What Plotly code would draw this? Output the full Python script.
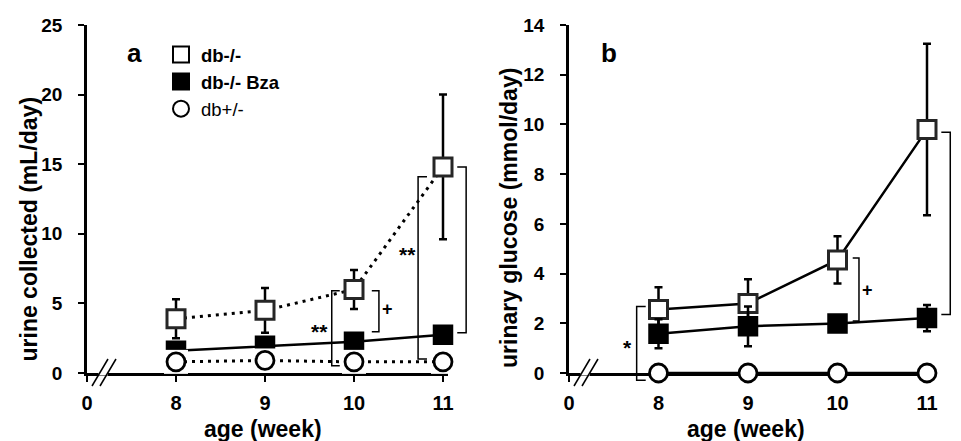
import plotly.graph_objects as go

W, H = 961, 441

# ---------------- data ----------------
xtick_labels = ["0", "8", "9", "10", "11"]
xtick_pos = [0, 1, 2, 3, 4]
week_pos = [1, 2, 3, 4]  # positions of weeks 8, 9, 10, 11 on the broken axis

urine_db = [3.9, 4.5, 6.0, 14.8]
urine_db_err = [1.4, 1.6, 1.4, 5.2]
urine_bza = [1.6, 1.95, 2.25, 2.75]
urine_het = [0.8, 0.9, 0.8, 0.8]

gluc_db = [2.55, 2.8, 4.55, 9.8]
gluc_db_err = [0.9, 0.97, 0.95, 3.45]
gluc_bza = [1.58, 1.88, 1.99, 2.21]
gluc_bza_err = [0.58, 0.8, 0.3, 0.53]
gluc_het = [0, 0, 0, 0]

names = ["<b>db-/-</b>", "<b>db-/- Bza</b>", "db+/-"]

# ---------------- layout geometry (pixels) ----------------
LX = (87, 443)     # pixel of position 0 and position 4 (week 11)
RX = (569, 927)
YP = (25, 373)
XMAX = 4.06        # small extension so error bars at week 11 are not clipped
FONT = "Arial, Liberation Sans, sans-serif"


def dom_px(p):
    xa, xb = p
    return xa, xa + (xb - xa) * XMAX / 4.0


def to_paper(panel, x, y):
    xa, xb = LX if panel == 0 else RX
    ymax = 25 if panel == 0 else 14
    px = xa + (xb - xa) * x / 4.0
    py = YP[1] - (YP[1] - YP[0]) * y / ymax
    return px / W, 1 - py / H


fig = go.Figure()

sq_open = dict(symbol="square", size=18, color="white", line=dict(color="#262626", width=3))
sq_fill = dict(symbol="square", size=19, color="black", line=dict(color="black", width=1.5))
circ = dict(symbol="circle", size=18, color="white", line=dict(color="black", width=2.8))
box = dict(symbol="square", size=24, color="white", line=dict(width=0))
err_style = dict(type="data", color="black", thickness=2.5, width=4, visible=True)
dotted = dict(color="black", width=3, dash="3px,5px")
solid = dict(color="black", width=2.5)

# ---------- panel a ----------
fig.add_trace(go.Scatter(x=week_pos, y=urine_db, mode="lines+markers", marker=sq_open, line=dotted,
                         error_y=dict(array=urine_db_err, **err_style), cliponaxis=False,
                         showlegend=False, xaxis="x", yaxis="y"))
fig.add_trace(go.Scatter(x=week_pos, y=urine_bza, mode="lines+markers", marker=sq_fill, line=solid,
                         cliponaxis=False, showlegend=False, xaxis="x", yaxis="y"))
fig.add_trace(go.Scatter(x=week_pos, y=urine_het, mode="markers", marker=box,
                         cliponaxis=False, showlegend=False, xaxis="x", yaxis="y", hoverinfo="skip"))
fig.add_trace(go.Scatter(x=week_pos, y=urine_het, mode="lines+markers", marker=circ, line=dotted,
                         cliponaxis=False, showlegend=False, xaxis="x", yaxis="y"))

# ---------- panel b ----------
fig.add_trace(go.Scatter(x=week_pos, y=gluc_db, mode="lines+markers", marker=sq_open, line=solid,
                         error_y=dict(array=gluc_db_err, **err_style), cliponaxis=False,
                         showlegend=False, xaxis="x2", yaxis="y2"))
fig.add_trace(go.Scatter(x=week_pos, y=gluc_bza, mode="lines+markers", marker=sq_fill, line=solid,
                         error_y=dict(array=gluc_bza_err, **err_style), cliponaxis=False,
                         showlegend=False, xaxis="x2", yaxis="y2"))
fig.add_trace(go.Scatter(x=week_pos, y=gluc_het, mode="lines+markers", marker=circ, line=solid,
                         cliponaxis=False, showlegend=False, xaxis="x2", yaxis="y2"))

# ---------- legend entries (marker only) ----------
leg_markers = [
    dict(symbol="square", size=16, color="white", line=dict(color="black", width=2)),
    dict(symbol="square", size=16, color="black", line=dict(color="black", width=2)),
    dict(symbol="circle", size=16, color="white", line=dict(color="black", width=2)),
]
for nm, mk in zip(names, leg_markers):
    fig.add_trace(go.Scatter(x=[None], y=[None], mode="markers", marker=mk, name=nm,
                             showlegend=True, xaxis="x", yaxis="y"))

# ---------- significance brackets ----------
# (panel, x of vertical line, x of tick ends, y top, y bottom)
brackets = [
    (0, 3.28, 3.20, 5.9, 2.97),
    (0, 2.75, 2.84, 5.9, 0.52),
    (0, 3.72, 3.82, 14.1, 1.0),
    (0, 4.26, 4.16, 14.8, 2.9),
    (1, 0.756, 0.857, 2.68, -0.29),
    (1, 3.24, 3.17, 4.63, 2.09),
    (1, 4.26, 4.16, 9.69, 2.35),
]
shapes = []
for p, xl, xt, y0, y1 in brackets:
    a = to_paper(p, xt, y0)
    b = to_paper(p, xl, y0)
    c = to_paper(p, xl, y1)
    d = to_paper(p, xt, y1)
    path = "M {:.5f},{:.5f} L {:.5f},{:.5f} L {:.5f},{:.5f} L {:.5f},{:.5f}".format(*a, *b, *c, *d)
    shapes.append(dict(type="path", path=path, xref="paper", yref="paper",
                       line=dict(color="black", width=1.5), layer="above"))

# ---------- axis break marks ----------
for ax0 in (LX[0], RX[0]):
    yb = YP[1]
    shapes.append(dict(type="line", xref="paper", yref="paper",
                       x0=(ax0 + 11.5) / W, x1=(ax0 + 21) / W, y0=1 - yb / H, y1=1 - yb / H,
                       line=dict(color="white", width=5), layer="above"))
    for dx in (5, 13):
        shapes.append(dict(type="line", xref="paper", yref="paper",
                           x0=(ax0 + dx) / W, y0=1 - (yb + 13) / H,
                           x1=(ax0 + dx + 16) / W, y1=1 - (yb - 14) / H,
                           line=dict(color="black", width=1.5), layer="above"))

# ---------- annotations ----------
ann = []
sig = [
    ("x", "y", 3.38, 4.6, "+", 18),
    ("x", "y", 2.61, 2.97, "**", 21),
    ("x", "y", 3.60, 8.5, "**", 21),
    ("x", "y", 4.34, 8.33, "+", 18),
    ("x2", "y2", 0.656, 1.01, "*", 21),
    ("x2", "y2", 3.33, 3.33, "+", 18),
    ("x2", "y2", 4.35, 5.74, "+", 18),
]
for xr, yr, x, y, t, s in sig:
    ann.append(dict(xref=xr, yref=yr, x=x, y=y, text="<b>%s</b>" % t, showarrow=False,
                    font=dict(family=FONT, size=s, color="black"), xanchor="center", yanchor="middle"))

for t, px in (("a", 134.5), ("b", 609)):
    ann.append(dict(xref="paper", yref="paper", x=px / W, y=1 - 52.5 / H, text="<b>%s</b>" % t,
                    showarrow=False, font=dict(family=FONT, size=26, color="black"),
                    xanchor="center", yanchor="middle"))

ann.append(dict(xref="paper", yref="paper", x=28 / W, y=1 - 229.5 / H, text="<b>urine collected (mL/day)</b>",
                textangle=-90, showarrow=False, font=dict(family=FONT, size=23, color="black"),
                xanchor="center", yanchor="middle"))
ann.append(dict(xref="paper", yref="paper", x=509 / W, y=1 - 218 / H, text="<b>urinary glucose (mmol/day)</b>",
                textangle=-90, showarrow=False, font=dict(family=FONT, size=23, color="black"),
                xanchor="center", yanchor="middle"))
for cx in (263, 746):
    ann.append(dict(xref="paper", yref="paper", x=cx / W, y=1 - 429 / H, text="<b>age (week)</b>",
                    showarrow=False, font=dict(family=FONT, size=23, color="black"),
                    xanchor="center", yanchor="middle"))


def xaxis_cfg(p, anchor):
    d0, d1 = dom_px(p)
    return dict(domain=[d0 / W, d1 / W], range=[0, XMAX], anchor=anchor,
                tickvals=xtick_pos, ticktext=xtick_labels, showline=True, linewidth=2.5,
                linecolor="black", ticks="outside", ticklen=6, tickwidth=2, tickcolor="black",
                tickfont=dict(family=FONT, size=20, color="black", weight="bold"),
                showgrid=False, zeroline=False, layer="below traces", fixedrange=True,
                automargin=False, ticklabelstandoff=4)


def yaxis_cfg(ymax, step, anchor):
    return dict(domain=[1 - YP[1] / H, 1 - YP[0] / H], range=[0, ymax], anchor=anchor,
                tickvals=list(range(0, ymax + 1, step)), showline=True, linewidth=2.5,
                linecolor="black", ticks="outside", ticklen=6, tickwidth=2, tickcolor="black",
                tickfont=dict(family=FONT, size=19, color="black", weight="bold"),
                showgrid=False, zeroline=False, layer="below traces", fixedrange=True,
                automargin=False, ticklabelstandoff=12)


fig.update_layout(
    template="none",
    width=W, height=H,
    margin=dict(l=0, r=0, t=0, b=0, pad=0, autoexpand=False),
    paper_bgcolor="white", plot_bgcolor="white",
    xaxis=xaxis_cfg(LX, "y"),
    yaxis=yaxis_cfg(25, 5, "x"),
    xaxis2=xaxis_cfg(RX, "y2"),
    yaxis2=yaxis_cfg(14, 2, "x2"),
    shapes=shapes,
    annotations=ann,
    showlegend=True,
    hovermode=False,
    legend=dict(x=161 / W, y=1 - 36 / H, xanchor="left", yanchor="top",
                bgcolor="rgba(0,0,0,0)", borderwidth=0, itemsizing="trace",
                font=dict(family=FONT, size=18.5, color="black"), tracegroupgap=0),
)

fig.write_html(
    "out.html",
    config={"displayModeBar": False},
    post_script="document.body.style.margin='0';document.body.style.padding='0';",
)
